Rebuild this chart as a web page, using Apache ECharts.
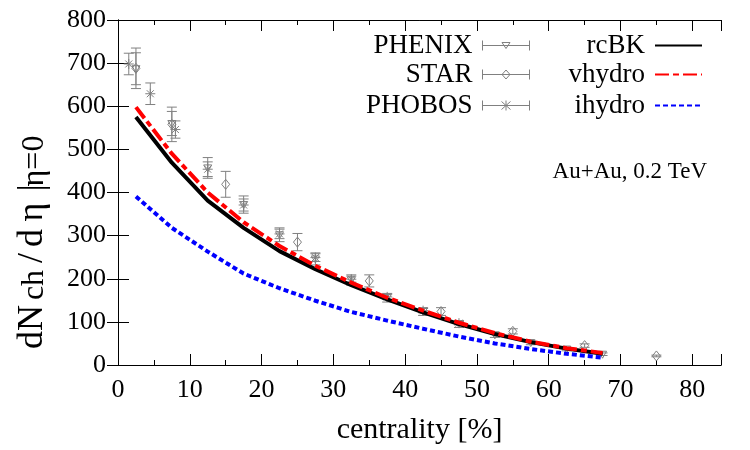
<!DOCTYPE html>
<html>
<head>
<meta charset="utf-8">
<script src="https://cdn.jsdelivr.net/npm/echarts@6/dist/echarts.min.js"></script>
<style>
  html, body { margin: 0; padding: 0; background: #fff; }
  #chart { width: 750px; height: 450px; }
</style>
</head>
<body>
<div id="chart"></div>
<script>
// measured data (centrality %, dNch/deta, error)
const phenixX = [2.5, 7.5, 12.5, 17.5, 22.5, 27.5, 32.5, 37.5, 42.5, 47.5, 52.5, 57.5, 62.5, 67.5];
const phenixY = [687, 560, 457, 372, 302, 246, 197, 156, 124, 95, 70, 52, 37, 25];
const phenixErr = [37, 28, 24, 20, 16, 14, 12, 10, 9, 8, 6, 5, 4, 3];

const starX = [2.5, 7.5, 15, 25, 35, 45, 55, 65, 75];
const starY = [688, 558, 419, 285, 195, 124, 78, 45, 21];
const starErr = [47, 40, 30, 20, 14, 9, 6, 4, 2];

const phobosX = [1.5, 4.5, 8, 12.5, 17.5, 22.5, 27.5, 32.5, 37.5, 42.5, 47.5];
const phobosY = [698, 629, 546, 454, 371, 304, 249, 199, 158, 126, 97];
const phobosErr = [25, 25, 20, 17, 14, 11, 9, 7, 6, 5, 4];

// model curves
const modelX = [2.5, 7.5, 12.5, 17.5, 22.5, 27.5, 32.5, 37.5, 42.5, 47.5, 52.5, 57.5, 62.5, 67.5];
const rcbkY = [575, 469, 381, 318, 264, 222, 185, 152, 122, 95, 72, 53, 38, 26];
const vhydroY = [598, 490, 400, 331, 276, 230, 191, 156, 126, 98, 74, 54, 39, 28];
const ihydroY = [391, 318, 263, 212, 178, 149, 123, 103, 84, 66, 50, 37, 26, 17];

const FONT = 'Liberation Serif';
const GREY = '#808080';

function pairs(xs, ys) {
    return xs.map((x, i) => [x, ys[i]]);
}

// marker shapes, drawn around pixel point c
function triangleDown(c, style) {
    return { type: 'polygon', shape: { points: [[c[0] - 4, c[1] - 3], [c[0] + 4, c[1] - 3], [c[0], c[1] + 4]] }, style };
}
function diamond(c, style) {
    return { type: 'polygon', shape: { points: [[c[0], c[1] - 5], [c[0] + 4, c[1]], [c[0], c[1] + 5], [c[0] - 4, c[1]]] }, style };
}
function asterisk(c, style) {
    const r = 5, d = 3.5;
    return {
        type: 'group',
        children: [
            { type: 'line', shape: { x1: c[0] - r, y1: c[1], x2: c[0] + r, y2: c[1] }, style },
            { type: 'line', shape: { x1: c[0], y1: c[1] - r, x2: c[0], y2: c[1] + r }, style },
            { type: 'line', shape: { x1: c[0] - d, y1: c[1] - d, x2: c[0] + d, y2: c[1] + d }, style },
            { type: 'line', shape: { x1: c[0] - d, y1: c[1] + d, x2: c[0] + d, y2: c[1] - d }, style }
        ]
    };
}

function errorSeries(name, xs, ys, errs, marker) {
    return {
        name: name,
        type: 'custom',
        xAxisIndex: 0,
        yAxisIndex: 0,
        itemStyle: { color: GREY },
        encode: { x: 0, y: 1 },
        data: xs.map((x, i) => [x, ys[i], errs[i]]),
        renderItem: function (params, api) {
            const x = api.value(0), y = api.value(1), e = api.value(2);
            const c = api.coord([x, y]);
            const t = api.coord([x, y + e]);
            const b = api.coord([x, y - e]);
            const cap = 5;
            const style = { stroke: GREY, lineWidth: 1, fill: null };
            return {
                type: 'group',
                children: [
                    { type: 'line', shape: { x1: c[0], y1: t[1], x2: c[0], y2: b[1] }, style },
                    { type: 'line', shape: { x1: c[0] - cap, y1: t[1], x2: c[0] + cap, y2: t[1] }, style },
                    { type: 'line', shape: { x1: c[0] - cap, y1: b[1], x2: c[0] + cap, y2: b[1] }, style },
                    marker(c, style)
                ]
            };
        }
    };
}

const barIcon = 'M0,5L47,5M0,0L0,10M47,0L47,10';
const phenixIcon = 'path://' + barIcon + 'M19.5,2L27.5,2L23.5,8Z';
const starIcon = 'path://' + barIcon + 'M23.5,0.5L27.5,5L23.5,9.5L19.5,5Z';
const phobosIcon = 'path://' + barIcon + 'M23.5,0L23.5,10M19,1L28,9M19,9L28,1';

function legendItem(item, right, top, isBar) {
    const leg = {
        data: [item],
        right: right,
        top: top,
        orient: 'vertical',
        align: 'right',
        padding: 0,
        itemWidth: 47,
        itemHeight: isBar ? 10 : 14,
        selectedMode: false,
        textStyle: { fontFamily: FONT, fontSize: 27, color: '#000', padding: [0, 5, 0, 0] }
    };
    if (isBar) {
        leg.itemStyle = { color: 'transparent', borderColor: GREY, borderWidth: 1 };
    } else {
        leg.itemStyle = { opacity: 0 };
    }
    return leg;
}

const axisLine = { show: true, lineStyle: { color: '#000', width: 1 } };
const tick = (len) => ({ inside: true, length: len, lineStyle: { color: '#000' } });
const xBase = { type: 'value', min: 0, max: 84, axisLine: axisLine, splitLine: { show: false } };
const yBase = { type: 'value', min: 0, max: 800, interval: 100, axisLine: axisLine, splitLine: { show: false } };

const yFont = '36px "Liberation Serif"';
const ySub = '32px "Liberation Serif"';

function buildOption() {
    return {
        animation: false,
        backgroundColor: '#fff',
        grid: { left: 118, right: 29, top: 20, bottom: 83 },
        legend: [
            legendItem({ name: 'PHENIX', icon: phenixIcon }, 220, 32, true),
            legendItem({ name: 'STAR', icon: starIcon }, 220, 61, true),
            legendItem({ name: 'PHOBOS', icon: phobosIcon }, 220, 92, true),
            legendItem('rcBK', 47, 32, false),
            legendItem('vhydro', 47, 61, false),
            legendItem('ihydro', 47, 92, false)
        ],
        xAxis: [
            Object.assign({}, xBase, {
                position: 'bottom',
                interval: 10,
                axisTick: tick(11),
                axisLabel: { fontFamily: FONT, fontSize: 26, color: '#000', margin: 12, formatter: v => (v % 10 === 0 ? String(v) : '') },
                name: 'centrality [%]',
                nameLocation: 'middle',
                nameGap: 50,
                nameTextStyle: { fontFamily: FONT, fontSize: 30, color: '#000' }
            }),
            Object.assign({}, xBase, { position: 'bottom', interval: 5, axisTick: tick(5), axisLabel: { show: false } }),
            Object.assign({}, xBase, { position: 'top', interval: 10, axisTick: tick(11), axisLabel: { show: false } }),
            Object.assign({}, xBase, { position: 'top', interval: 5, axisTick: tick(5), axisLabel: { show: false } })
        ],
        yAxis: [
            Object.assign({}, yBase, {
                position: 'left',
                axisTick: tick(11),
                axisLabel: { fontFamily: FONT, fontSize: 26, color: '#000', margin: 12 }
            }),
            Object.assign({}, yBase, { position: 'right', axisTick: tick(11), axisLabel: { show: false } })
        ],
        graphic: [
            {
                type: 'text',
                x: 707,
                y: 172,
                style: { text: 'Au+Au, 0.2 TeV', fontFamily: FONT, fontSize: 23, fill: '#000', align: 'right', verticalAlign: 'middle' }
            },
            {
                type: 'text',
                x: 33,
                y: 247,
                rotation: Math.PI / 2,
                style: {
                    text: '{a|dN}{s|ch}{b|/}{c|d}{e|η}{f||}{s|η=0}',
                    align: 'center',
                    verticalAlign: 'middle',
                    rich: {
                        a: { font: yFont, fill: '#000', lineHeight: 36, width: 48 },
                        s: { font: ySub, fill: '#000', lineHeight: 12, verticalAlign: 'bottom', width: 36 },
                        b: { font: yFont, fill: '#000', lineHeight: 36, width: 18 },
                        c: { font: yFont, fill: '#000', lineHeight: 36, width: 22 },
                        e: { font: yFont, fill: '#000', lineHeight: 36, width: 30 },
                        f: { font: yFont, fill: '#000', lineHeight: 36, width: 18 }
                    }
                }
            }
        ],
        series: [
            errorSeries('PHENIX', phenixX, phenixY, phenixErr, triangleDown),
            errorSeries('STAR', starX, starY, starErr, diamond),
            errorSeries('PHOBOS', phobosX, phobosY, phobosErr, asterisk),
            {
                name: 'rcBK',
                type: 'line',
                data: pairs(modelX, rcbkY),
                symbol: 'none',
                color: '#000',
                lineStyle: { color: '#000', width: 4 }
            },
            {
                name: 'vhydro',
                type: 'line',
                data: pairs(modelX, vhydroY),
                symbol: 'none',
                color: '#ff0000',
                lineStyle: { color: '#ff0000', width: 4, type: [14, 4, 6, 4] }
            },
            {
                name: 'ihydro',
                type: 'line',
                data: pairs(modelX, ihydroY),
                symbol: 'none',
                color: '#0000ff',
                lineStyle: { color: '#0000ff', width: 4, type: [5, 3] }
            }
        ]
    };
}

var myChart = echarts.init(document.getElementById('chart'));
function draw() {
    myChart.setOption(buildOption(), true);
}
draw();
// second pass so text is painted with the serif face once it is resolved
draw();
if (document.fonts && document.fonts.ready) {
    document.fonts.ready.then(draw);
}
setTimeout(draw, 30);
</script>
</body>
</html>
